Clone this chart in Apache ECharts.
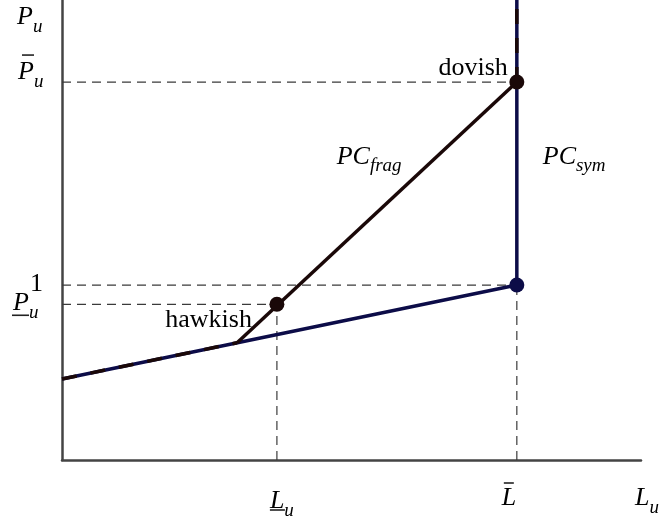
<!DOCTYPE html>
<html>
<head>
<meta charset="utf-8">
<title>PC fragile vs symmetric</title>
<script src="https://cdn.jsdelivr.net/npm/echarts@6/dist/echarts.min.js"></script>
<style>
  html, body { margin: 0; padding: 0; background: #fff; }
  #chart { width: 659px; height: 518px; }
</style>
</head>
<body>
<div id="chart"></div>
<script>
// key values (L_bar = 1, price level 1)
const lUnder = 0.4725
const lBar = 1
const pUnder = 0.89
const pBar = 2.16
const xMax = 1.273
const yMax = 2.629

// curves
const symLine = [[0, 0.463], [1, 1], [1, 2.7]]
const fragLine = [[0.385, 0.67], [1, 2.16]]
const fragOverlap = [[[0, 0.463], [0.385, 0.67]], [[1, 2.16], [1, 2.7]]]
const fragPoints = [[lUnder, pUnder], [lBar, pBar]]
const symPoints = [[lBar, 1]]

// dashed guides
const guides = [
  [[0, pBar], [lBar, pBar]],
  [[0, 1], [lBar, 1]],
  [[0, pUnder], [lUnder, pUnder]],
  [[lUnder, 0], [lUnder, pUnder]],
  [[lBar, 0], [lBar, 1]]
]

const blue = '#0c0c48'
const dark = '#1a0808'
const ink = '#222'
const font = 'Liberation Serif'

const chart = echarts.init(document.getElementById('chart'))

const series = []
guides.forEach(g => {
  series.push({
    type: 'line', data: g, symbol: 'none', silent: true, z: 1,
    lineStyle: { color: '#3a3a3a', width: 1.2, type: [9, 6] }
  })
})
series.push({
  type: 'line', data: symLine, symbol: 'none', z: 2,
  lineStyle: { color: blue, width: 3.5 }
})
fragOverlap.forEach(seg => {
  series.push({
    type: 'line', data: seg, symbol: 'none', z: 3,
    lineStyle: { color: dark, width: 3.5, type: [15, 14] }
  })
})
series.push({
  type: 'line', data: fragLine, symbol: 'none', z: 3,
  lineStyle: { color: dark, width: 3.5 }
})
series.push({
  type: 'scatter', data: fragPoints, symbolSize: 15, z: 4,
  itemStyle: { color: dark, opacity: 1 }
})
series.push({
  type: 'scatter', data: symPoints, symbolSize: 15, z: 4,
  itemStyle: { color: blue, opacity: 1 }
})

chart.setOption({
  animation: false,
  grid: { left: 62, right: 18, top: 0, bottom: 58 },
  xAxis: {
    type: 'value', min: 0, max: xMax,
    axisLine: { lineStyle: { color: '#444', width: 2.5 } },
    axisTick: { show: false }, axisLabel: { show: false }, splitLine: { show: false }
  },
  yAxis: {
    type: 'value', min: 0, max: yMax,
    axisLine: { show: true, lineStyle: { color: '#444', width: 2.5 } },
    axisTick: { show: false }, axisLabel: { show: false }, splitLine: { show: false }
  },
  series: series
})

const rich = {
  m: { fontFamily: font, fontStyle: 'italic', fontSize: 26, lineHeight: 32, verticalAlign: 'top', color: ink },
  s: { fontFamily: font, fontStyle: 'italic', fontSize: 19, lineHeight: 16, verticalAlign: 'bottom', color: ink },
  r: { fontFamily: font, fontSize: 26, lineHeight: 32, color: ink }
}

function px(pt) {
  return chart.convertToPixel({ gridIndex: 0 }, pt)
}

// text anchored to a data point; bar = [x1, x2, y] offsets for an accent rule
function label(text, pt, dx, dy, align, bar) {
  const p = px(pt)
  const out = [{
    type: 'text', z: 10,
    style: {
      x: p[0] + dx, y: p[1] + dy, text: text, rich: rich,
      align: align, verticalAlign: 'middle'
    }
  }]
  if (bar) {
    out.push({
      type: 'line', z: 10,
      shape: { x1: p[0] + bar[0], y1: p[1] + bar[2], x2: p[0] + bar[1], y2: p[1] + bar[2] },
      style: { stroke: ink, lineWidth: 1.6 }
    })
  }
  return out
}

chart.setOption({
  graphic: [].concat(
    label('{m|P}{s|u}', [0, yMax], -45, 20, 'left'),
    label('{m|P}{s|u}', [0, pBar], -44, -7, 'left', [-40, -28, -27]),
    label('{r|1}', [0, 1], -19, -1, 'right'),
    label('{m|P}{s|u}', [0, pUnder], -49, 2, 'left', [-50, -33, 11]),
    label('{m|L}{s|u}', [lUnder, 0], -7, 44, 'left', [-7, 8, 50]),
    label('{m|L}', [lBar, 0], -15, 41, 'left', [-13, -3, 23]),
    label('{m|L}{s|u}', [xMax, 0], -6, 41, 'left'),
    label('{r|dovish}', [lBar, pBar], -9, -14, 'right'),
    label('{r|hawkish}', [lUnder, pUnder], -25, 16, 'right'),
    label('{m|PC}{s|frag}', [0.604, 1.75], 0, 6, 'left'),
    label('{m|PC}{s|sym}', [1.057, 1.75], 0, 6, 'left')
  )
})
</script>
</body>
</html>
